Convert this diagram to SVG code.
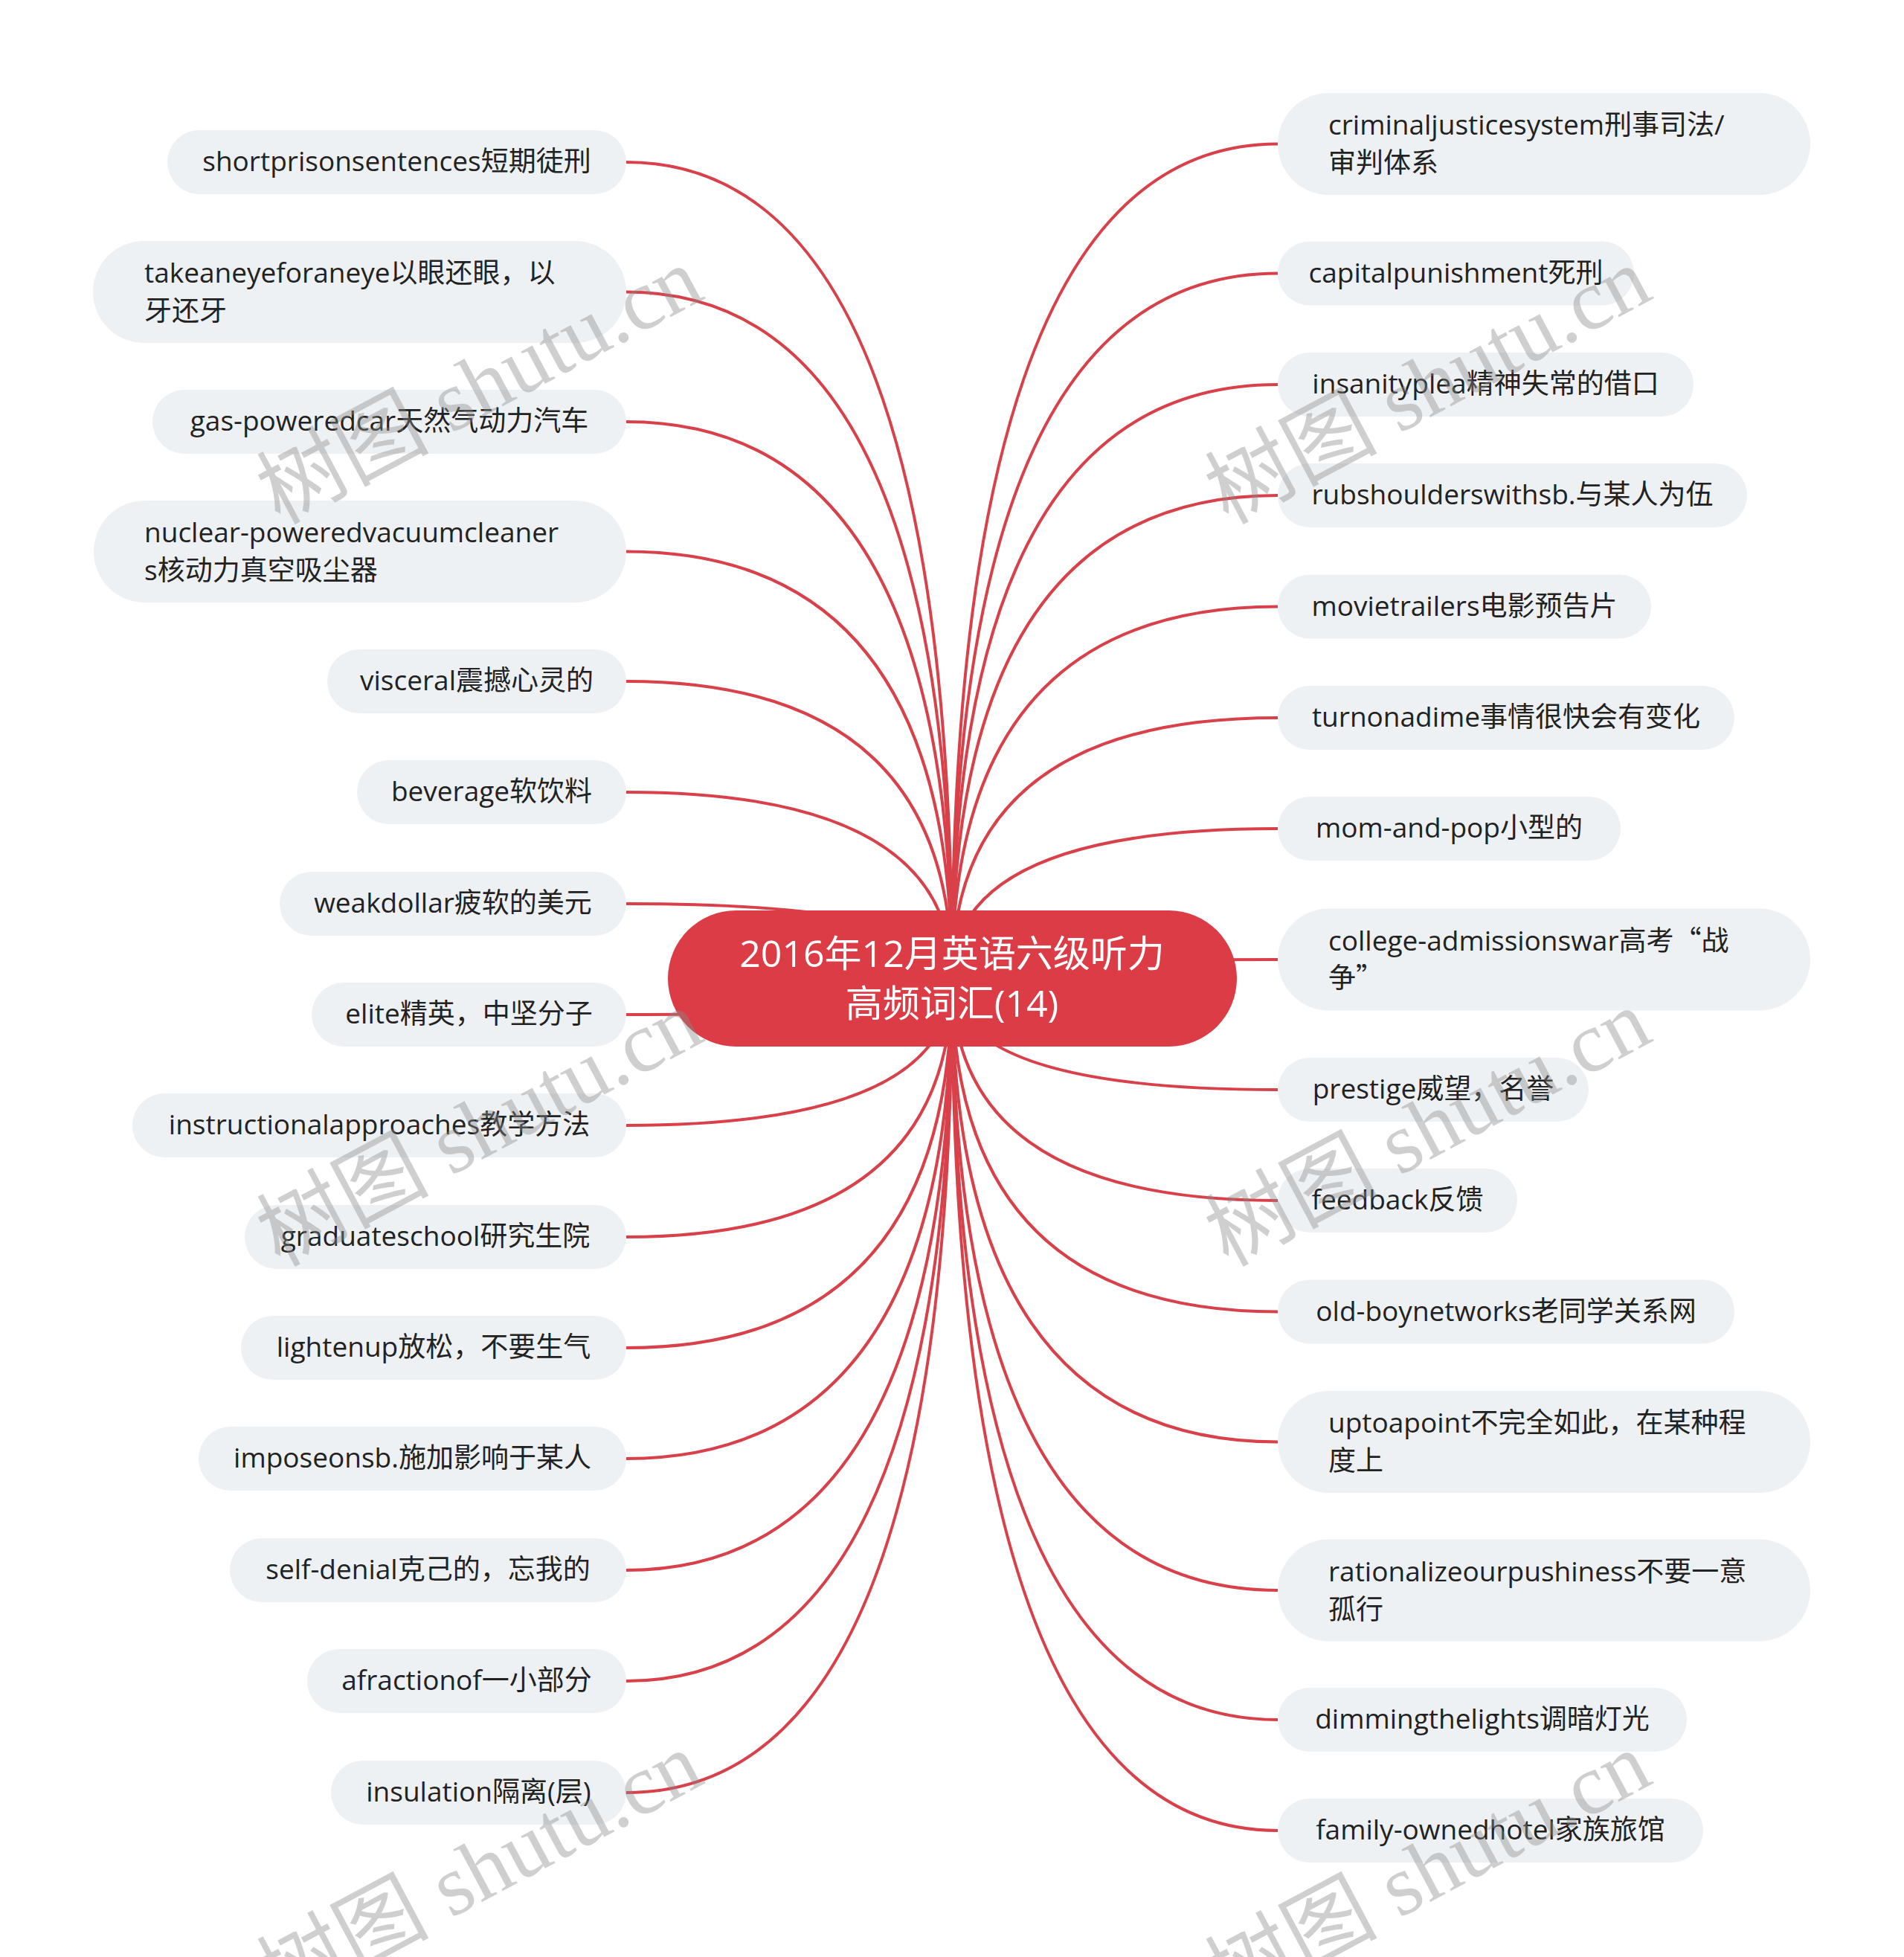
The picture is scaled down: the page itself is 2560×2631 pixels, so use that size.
<svg xmlns="http://www.w3.org/2000/svg" width="2560" height="2631" viewBox="0 0 2560 2631">
<style>
.bg{fill:#ffffff}
.link{fill:none;stroke:#d8404a;stroke-width:4}
.box{fill:#eef1f4}
.t{font-family:"Open Sans","Noto Sans CJK SC",sans-serif;font-size:37px;fill:#222222}
.q{font-family:"Noto Sans CJK SC",sans-serif}
.c{text-anchor:middle}
.root{fill:#db3c45}
.rt{font-family:"Open Sans","Noto Sans CJK SC",sans-serif;font-size:50px;fill:#ffffff;text-anchor:middle}
.wm{font-family:"Liberation Serif","Noto Sans CJK SC",serif;font-size:116px;fill:#8a8a8a;opacity:0.4;text-anchor:middle}
</style>
<rect class="bg" x="0" y="0" width="2560" height="2631"/>
<g id="connectors">
<path class="link" d="M842 218 Q1280 218 1280 1315"/>
<path class="link" d="M842 392.5 Q1280 392.5 1280 1315"/>
<path class="link" d="M842 567 Q1280 567 1280 1315"/>
<path class="link" d="M842 741.5 Q1280 741.5 1280 1315"/>
<path class="link" d="M842 916 Q1280 916 1280 1315"/>
<path class="link" d="M842 1065 Q1280 1065 1280 1315"/>
<path class="link" d="M842 1215 Q1280 1215 1280 1315"/>
<path class="link" d="M842 1364 Q1280 1364 1280 1315"/>
<path class="link" d="M842 1513 Q1280 1513 1280 1315"/>
<path class="link" d="M842 1663 Q1280 1663 1280 1315"/>
<path class="link" d="M842 1812 Q1280 1812 1280 1315"/>
<path class="link" d="M842 1961 Q1280 1961 1280 1315"/>
<path class="link" d="M842 2111 Q1280 2111 1280 1315"/>
<path class="link" d="M842 2260 Q1280 2260 1280 1315"/>
<path class="link" d="M842 2410 Q1280 2410 1280 1315"/>
<path class="link" d="M1280 1315 Q1280 193.5 1718 193.5"/>
<path class="link" d="M1280 1315 Q1280 367.5 1718 367.5"/>
<path class="link" d="M1280 1315 Q1280 517 1718 517"/>
<path class="link" d="M1280 1315 Q1280 666 1718 666"/>
<path class="link" d="M1280 1315 Q1280 815.5 1718 815.5"/>
<path class="link" d="M1280 1315 Q1280 965 1718 965"/>
<path class="link" d="M1280 1315 Q1280 1114 1718 1114"/>
<path class="link" d="M1280 1315 Q1280 1290 1718 1290"/>
<path class="link" d="M1280 1315 Q1280 1465 1718 1465"/>
<path class="link" d="M1280 1315 Q1280 1614 1718 1614"/>
<path class="link" d="M1280 1315 Q1280 1763.5 1718 1763.5"/>
<path class="link" d="M1280 1315 Q1280 1938.5 1718 1938.5"/>
<path class="link" d="M1280 1315 Q1280 2138 1718 2138"/>
<path class="link" d="M1280 1315 Q1280 2312 1718 2312"/>
<path class="link" d="M1280 1315 Q1280 2461 1718 2461"/>
</g>
<g id="root">
<rect class="root" x="898" y="1224" width="765" height="183" rx="91.5"/>
<text class="rt" x="1280" y="1300">2016年12月英语六级听力</text>
<text class="rt" x="1280" y="1367">高频词汇(14)</text>
</g>
<g id="n-l1"><rect class="box" x="225" y="175" width="617" height="86" rx="43"/><text class="t c" x="533.5" y="230">shortprisonsentences短期徒刑</text></g>
<g id="n-l2"><rect class="box" x="125" y="324" width="717" height="137" rx="68.5"/><text class="t" x="194" y="380">takeaneyeforaneye以眼还眼，以</text><text class="t" x="194" y="431">牙还牙</text></g>
<g id="n-l3"><rect class="box" x="205" y="524" width="637" height="86" rx="43"/><text class="t c" x="523.5" y="579">gas-poweredcar天然气动力汽车</text></g>
<g id="n-l4"><rect class="box" x="126" y="673" width="716" height="137" rx="68.5"/><text class="t" x="194" y="729">nuclear-poweredvacuumcleaner</text><text class="t" x="194" y="780">s核动力真空吸尘器</text></g>
<g id="n-l5"><rect class="box" x="440" y="873" width="402" height="86" rx="43"/><text class="t c" x="641" y="928">visceral震撼心灵的</text></g>
<g id="n-l6"><rect class="box" x="480" y="1022" width="362" height="86" rx="43"/><text class="t c" x="661" y="1077">beverage软饮料</text></g>
<g id="n-l7"><rect class="box" x="376" y="1172" width="466" height="86" rx="43"/><text class="t c" x="609" y="1227">weakdollar疲软的美元</text></g>
<g id="n-l8"><rect class="box" x="419" y="1321" width="423" height="86" rx="43"/><text class="t c" x="630.5" y="1376">elite精英，中坚分子</text></g>
<g id="n-l9"><rect class="box" x="178" y="1470" width="664" height="86" rx="43"/><text class="t c" x="510" y="1525">instructionalapproaches教学方法</text></g>
<g id="n-l10"><rect class="box" x="329" y="1620" width="513" height="86" rx="43"/><text class="t c" x="585.5" y="1675">graduateschool研究生院</text></g>
<g id="n-l11"><rect class="box" x="324" y="1769" width="518" height="86" rx="43"/><text class="t c" x="583" y="1824">lightenup放松，不要生气</text></g>
<g id="n-l12"><rect class="box" x="267" y="1918" width="575" height="86" rx="43"/><text class="t c" x="554.5" y="1973">imposeonsb.施加影响于某人</text></g>
<g id="n-l13"><rect class="box" x="309" y="2068" width="533" height="86" rx="43"/><text class="t c" x="575.5" y="2123">self-denial克己的，忘我的</text></g>
<g id="n-l14"><rect class="box" x="413" y="2217" width="429" height="86" rx="43"/><text class="t c" x="627.5" y="2272">afractionof一小部分</text></g>
<g id="n-l15"><rect class="box" x="445" y="2367" width="397" height="86" rx="43"/><text class="t c" x="643.5" y="2422">insulation隔离(层)</text></g>
<g id="n-r1"><rect class="box" x="1718" y="125" width="716" height="137" rx="68.5"/><text class="t" x="1786" y="181">criminaljusticesystem刑事司法/</text><text class="t" x="1786" y="232">审判体系</text></g>
<g id="n-r2"><rect class="box" x="1718" y="324.5" width="479" height="86" rx="43"/><text class="t c" x="1957.5" y="379.5">capitalpunishment死刑</text></g>
<g id="n-r3"><rect class="box" x="1718" y="474" width="559" height="86" rx="43"/><text class="t c" x="1997.5" y="529">insanityplea精神失常的借口</text></g>
<g id="n-r4"><rect class="box" x="1718" y="623" width="631" height="86" rx="43"/><text class="t c" x="2033.5" y="678">rubshoulderswithsb.与某人为伍</text></g>
<g id="n-r5"><rect class="box" x="1718" y="772.5" width="502" height="86" rx="43"/><text class="t c" x="1969" y="827.5">movietrailers电影预告片</text></g>
<g id="n-r6"><rect class="box" x="1718" y="922" width="614" height="86" rx="43"/><text class="t c" x="2025" y="977">turnonadime事情很快会有变化</text></g>
<g id="n-r7"><rect class="box" x="1718" y="1071" width="461" height="86" rx="43"/><text class="t c" x="1948.5" y="1126">mom-and-pop小型的</text></g>
<g id="n-r8"><rect class="box" x="1718" y="1221.5" width="716" height="137" rx="68.5"/><text class="t" x="1786" y="1278">college-admissionswar高考<tspan class="q">“</tspan>战</text><text class="t" x="1786" y="1328">争<tspan class="q">”</tspan></text></g>
<g id="n-r9"><rect class="box" x="1718" y="1422" width="418" height="86" rx="43"/><text class="t c" x="1927" y="1477">prestige威望，名誉</text></g>
<g id="n-r10"><rect class="box" x="1718" y="1571" width="322" height="86" rx="43"/><text class="t c" x="1879" y="1626">feedback反馈</text></g>
<g id="n-r11"><rect class="box" x="1718" y="1720.5" width="614" height="86" rx="43"/><text class="t c" x="2025" y="1775.5">old-boynetworks老同学关系网</text></g>
<g id="n-r12"><rect class="box" x="1718" y="1870" width="716" height="137" rx="68.5"/><text class="t" x="1786" y="1926">uptoapoint不完全如此，在某种程</text><text class="t" x="1786" y="1977">度上</text></g>
<g id="n-r13"><rect class="box" x="1718" y="2069.5" width="716" height="137" rx="68.5"/><text class="t" x="1786" y="2126">rationalizeourpushiness不要一意</text><text class="t" x="1786" y="2177">孤行</text></g>
<g id="n-r14"><rect class="box" x="1718" y="2269" width="550" height="86" rx="43"/><text class="t c" x="1993" y="2324">dimmingthelights调暗灯光</text></g>
<g id="n-r15"><rect class="box" x="1718" y="2418" width="572" height="86" rx="43"/><text class="t c" x="2004" y="2473">family-ownedhotel家族旅馆</text></g>
<g id="watermarks">
<text class="wm" transform="translate(663 553) rotate(-28)">树图 shutu.cn</text>
<text class="wm" transform="translate(1938 553) rotate(-28)">树图 shutu.cn</text>
<text class="wm" transform="translate(663 1551) rotate(-28)">树图 shutu.cn</text>
<text class="wm" transform="translate(1938 1551) rotate(-28)">树图 shutu.cn</text>
<text class="wm" transform="translate(663 2549) rotate(-28)">树图 shutu.cn</text>
<text class="wm" transform="translate(1938 2549) rotate(-28)">树图 shutu.cn</text>
</g>
</svg>
